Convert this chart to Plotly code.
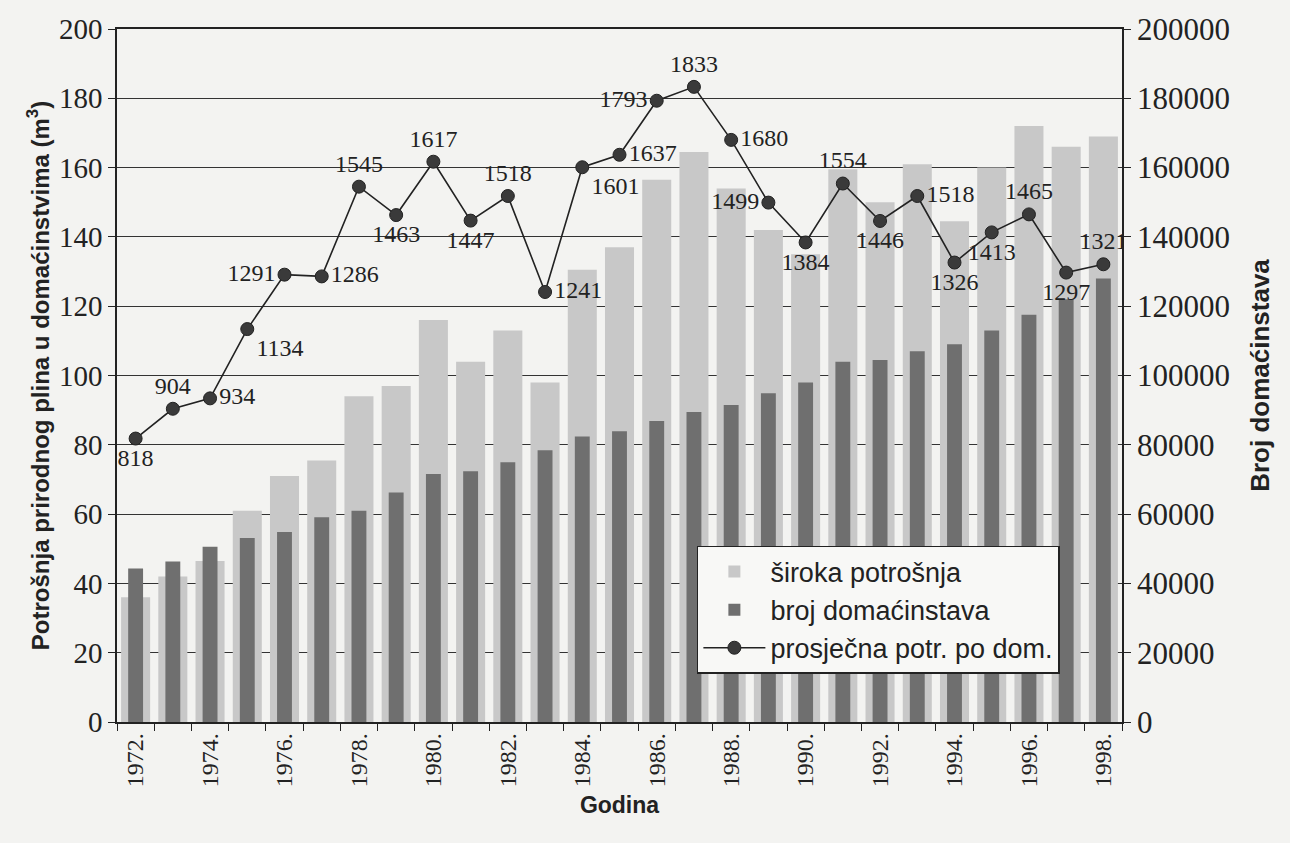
import plotly.graph_objects as go

# godine
godine = list(range(1972, 1999))

# siroka potrosnja (lijeva os)
siroka_potrosnja = [36, 42, 46.5, 61, 71, 75.5, 94, 97, 116, 104, 113, 98,
                    130.5, 137, 156.5, 164.5, 154, 142, 135, 159.5, 150, 161,
                    144.5, 160, 172, 166, 169]

# broj domacinstava (desna os)
broj_domacinstava = [44300, 46300, 50600, 53100, 54800, 59100, 61000, 66200,
                     71600, 72400, 75000, 78400, 82400, 83900, 86900, 89500,
                     91500, 94900, 98000, 104000, 104500, 107000, 109000,
                     113000, 117500, 122000, 128000]

# prosjecna potrosnja po domacinstvu
prosjek = [818, 904, 934, 1134, 1291, 1286, 1545, 1463, 1617, 1447, 1518, 1241,
           1601, 1637, 1793, 1833, 1680, 1499, 1384, 1554, 1446, 1518, 1326,
           1413, 1465, 1297, 1321]

pozicije = ["bottom center", "top center", "middle right", "bottom right",
            "middle left", "middle right", "top center", "bottom center",
            "top center", "bottom center", "top center", "middle right",
            "bottom right", "middle right", "middle left", "top center",
            "middle right", "middle left", "bottom center", "top center",
            "bottom center", "middle right", "bottom center", "bottom center",
            "top center", "bottom center", "top center"]

oznake_x = [g for g in godine if g % 2 == 0]
tekst_x = [f"{g}." for g in oznake_x]

serif = "Liberation Serif"
sans = "Liberation Sans"
pozadina = "#f3f3f1"

fig = go.Figure()

fig.add_trace(go.Bar(x=godine, y=siroka_potrosnja, name="široka potrošnja",
                     marker=dict(color="#c8c8c8", line=dict(width=0)),
                     width=0.78, yaxis="y", legendgroup="a"))
fig.add_trace(go.Bar(x=godine, y=broj_domacinstava, name="broj domaćinstava",
                     marker=dict(color="#6f6f6f", line=dict(width=0)),
                     width=0.4, yaxis="y2", legendgroup="b"))
fig.add_trace(go.Scatter(x=godine, y=[p / 10 for p in prosjek],
                         name="prosječna potr. po dom.",
                         mode="lines+markers+text",
                         text=[str(p) for p in prosjek], textposition=pozicije,
                         textfont=dict(family=serif, size=24, color="#222"),
                         line=dict(color="#222", width=1.6),
                         marker=dict(size=13, color="#3a3a3a",
                                     line=dict(color="#222", width=1)),
                         yaxis="y3", legendgroup="c"))

fig.update_layout(
    width=1290, height=843,
    margin=dict(l=117, r=168, t=18, b=121),
    paper_bgcolor=pozadina, plot_bgcolor=pozadina,
    barmode="overlay",
    showlegend=True,
    legend=dict(x=0.577, y=0.254, xanchor="left", yanchor="top",
                bgcolor="#f8f8f6", bordercolor="#222", borderwidth=1.5,
                font=dict(family=sans, size=27, color="#222"),
                traceorder="normal", tracegroupgap=11, itemwidth=62),
    xaxis=dict(range=[1971.5, 1998.5], tickvals=oznake_x, ticktext=tekst_x,
               tickangle=-90, ticks="",
               tickfont=dict(family=serif, size=24, color="#222"),
               minor=dict(ticks="outside", tick0=1971.5, dtick=1, ticklen=7,
                          tickcolor="#222", showgrid=False),
               showline=True, linecolor="#222", linewidth=1.5, mirror=True,
               showgrid=False, zeroline=False,
               title=dict(text="<b>Godina</b>", standoff=11,
                          font=dict(family=sans, size=23, color="#222"))),
    yaxis=dict(range=[0, 200], dtick=20, ticks="outside", ticklen=7,
               tickcolor="#222",
               tickfont=dict(family=serif, size=29, color="#222"),
               showgrid=True, gridcolor="#333", gridwidth=1.2,
               showline=True, linecolor="#222", linewidth=1.5,
               zeroline=False,
               title=dict(text="<b>Potrošnja prirodnog plina u domaćinstvima (m<sup>3</sup>)</b>",
                          standoff=3,
                          font=dict(family=sans, size=24, color="#222"))),
    yaxis2=dict(range=[0, 200000], dtick=20000, overlaying="y", side="right",
                tickformat="d",
                ticks="outside", ticklen=7, tickcolor="#222",
                tickfont=dict(family=serif, size=31, color="#222"),
                showgrid=False, showline=True, linecolor="#222", linewidth=1.5,
                zeroline=False,
                title=dict(text="<b>Broj domaćinstava</b>", standoff=22,
                           font=dict(family=sans, size=26, color="#222"))),
    yaxis3=dict(range=[0, 200], overlaying="y", visible=False),
)

fig.write_html("out.html", config={"displayModeBar": False},
               post_script="document.body.style.margin='0';"
                           "document.body.style.background='%s';" % pozadina)
